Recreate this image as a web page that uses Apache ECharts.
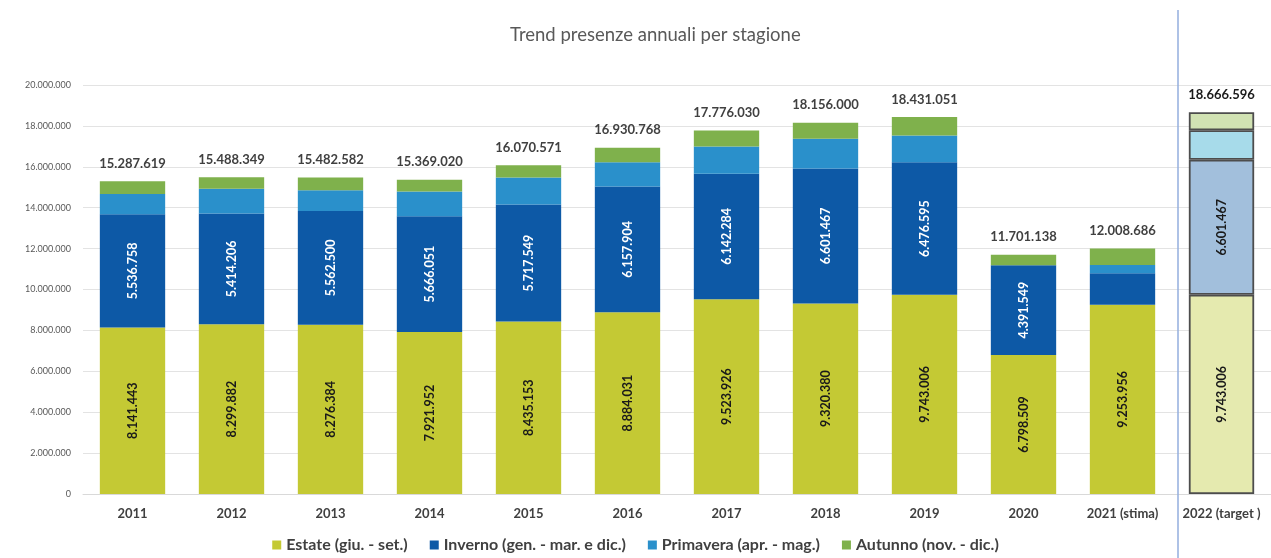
<!DOCTYPE html>
<html>
<head>
<meta charset="utf-8">
<script src="https://cdn.jsdelivr.net/npm/echarts@6/dist/echarts.min.js"></script>
<style>
  html, body { margin: 0; padding: 0; background: #ffffff; }
  #chart { width: 1271px; height: 558px; }
</style>
</head>
<body>
<div id="chart"></div>
<script>
// Annual tourist presences split by season
const categories = ['2011', '2012', '2013', '2014', '2015', '2016', '2017', '2018', '2019', '2020', '2021 (stima)', '2022 (target )'];
const estate    = [8141443, 8299882, 8276384, 7921952, 8435153, 8884031, 9523926, 9320380, 9743006, 6798509, 9253956, 9743006];
const inverno   = [5536758, 5414206, 5562500, 5666051, 5717549, 6157904, 6142284, 6601467, 6476595, 4391549, 1540000, 6601467];
const primavera = [990000, 1210000, 1010000, 1200000, 1320000, 1180000, 1330000, 1450000, 1310000, 0, 410000, 1440000];
const autunno   = [619418, 564261, 633698, 581017, 597869, 708833, 779820, 784153, 901450, 511080, 804730, 882123];
const totali    = [15287619, 15488349, 15482582, 15369020, 16070571, 16930768, 17776030, 18156000, 18431051, 11701138, 12008686, 18666596];
const seriesNames = ['Estate (giu. - set.)', 'Inverno (gen. - mar. e dic.)', 'Primavera (apr. - mag.)', 'Autunno (nov. - dic.)'];
const yTicks = { min: 0, max: 20000000, step: 2000000 };

const colors = ['#c4c934', '#0d59a6', '#2a90cb', '#7fb14c'];
const targetColors = ['#e5eaaf', '#a2bfdc', '#a7dbea', '#d1e2b3'];
const targetIndex = categories.length - 1;
const FONT = 'Lato, "Open Sans", sans-serif';

function fmt(v) {
  return String(Math.round(v)).replace(/\B(?=(\d{3})+(?!\d))/g, '.');
}

function buildData(values, k) {
  return values.map((v, i) => {
    const item = { value: v };
    if (i === targetIndex) {
      item.itemStyle = { color: targetColors[k], borderColor: '#4d4d4d', borderWidth: 1.8 };
      item.label = { color: '#1a1a1a' };
    }
    return item;
  });
}

const insideLabel = (color) => ({
  show: true,
  position: 'inside',
  rotate: 90,
  fontFamily: FONT,
  fontWeight: 'bold',
  fontSize: 12.5,
  color: color,
  formatter: (p) => (p.value >= 3000000 ? fmt(p.value) : '')
});

const chart = echarts.init(document.getElementById('chart'), null, { renderer: 'canvas' });

const option = {
  animation: false,
  backgroundColor: '#ffffff',
  title: {
    text: 'Trend presenze annuali per stagione',
    left: 505,
    top: 21,
    textStyle: { fontFamily: FONT, fontSize: 18.5, fontWeight: 'normal', color: '#595959' }
  },
  legend: {
    bottom: 0,
    left: 'center',
    itemWidth: 9,
    itemHeight: 9,
    itemGap: 22,
    icon: 'rect',
    textStyle: { fontFamily: FONT, fontSize: 16, fontWeight: 'bold', color: '#404040' },
    data: seriesNames
  },
  grid: { left: 83, top: 85, width: 1192, bottom: 64, containLabel: false },
  xAxis: {
    type: 'category',
    data: categories,
    axisTick: { show: false },
    axisLine: { lineStyle: { color: '#d9d9d9' } },
    axisLabel: { interval: 0, fontFamily: FONT, fontSize: 13, fontWeight: 'bold', color: '#404040', margin: 13 }
  },
  yAxis: {
    type: 'value',
    min: yTicks.min,
    max: yTicks.max,
    interval: yTicks.step,
    axisLine: { show: false },
    axisTick: { show: false },
    splitLine: { lineStyle: { color: '#e3e3e3', width: 1 } },
    axisLabel: { fontFamily: FONT, fontSize: 9, color: '#595959', margin: 12, formatter: (v) => fmt(v) }
  },
  series: [
    {
      name: seriesNames[0], type: 'bar', stack: 'tot', barCategoryGap: '34%',
      itemStyle: { color: colors[0] },
      label: insideLabel('#1a1a1a'),
      data: buildData(estate, 0)
    },
    {
      name: seriesNames[1], type: 'bar', stack: 'tot',
      itemStyle: { color: colors[1] },
      label: insideLabel('#ffffff'),
      data: buildData(inverno, 1)
    },
    {
      name: seriesNames[2], type: 'bar', stack: 'tot',
      itemStyle: { color: colors[2] },
      data: buildData(primavera, 2)
    },
    {
      name: seriesNames[3], type: 'bar', stack: 'tot',
      itemStyle: { color: colors[3] },
      label: {
        show: true,
        position: 'top',
        distance: 11,
        fontFamily: FONT,
        fontWeight: 'bold',
        fontSize: 13,
        color: '#404040',
        formatter: (p) => fmt(totali[p.dataIndex])
      },
      data: buildData(autunno, 3)
    }
  ]
};

chart.setOption(option);

// Separator between the historical years and the target year
const xa = chart.convertToPixel({ xAxisIndex: 0 }, categories[targetIndex - 1]);
const xb = chart.convertToPixel({ xAxisIndex: 0 }, categories[targetIndex]);
const sepX = Math.round((xa + xb) / 2) + 6;
chart.setOption({
  graphic: [{
    type: 'line',
    shape: { x1: sepX, y1: 10, x2: sepX, y2: 558 },
    style: { stroke: '#93aede', lineWidth: 1.5 },
    z: 100
  }]
});
</script>
</body>
</html>
